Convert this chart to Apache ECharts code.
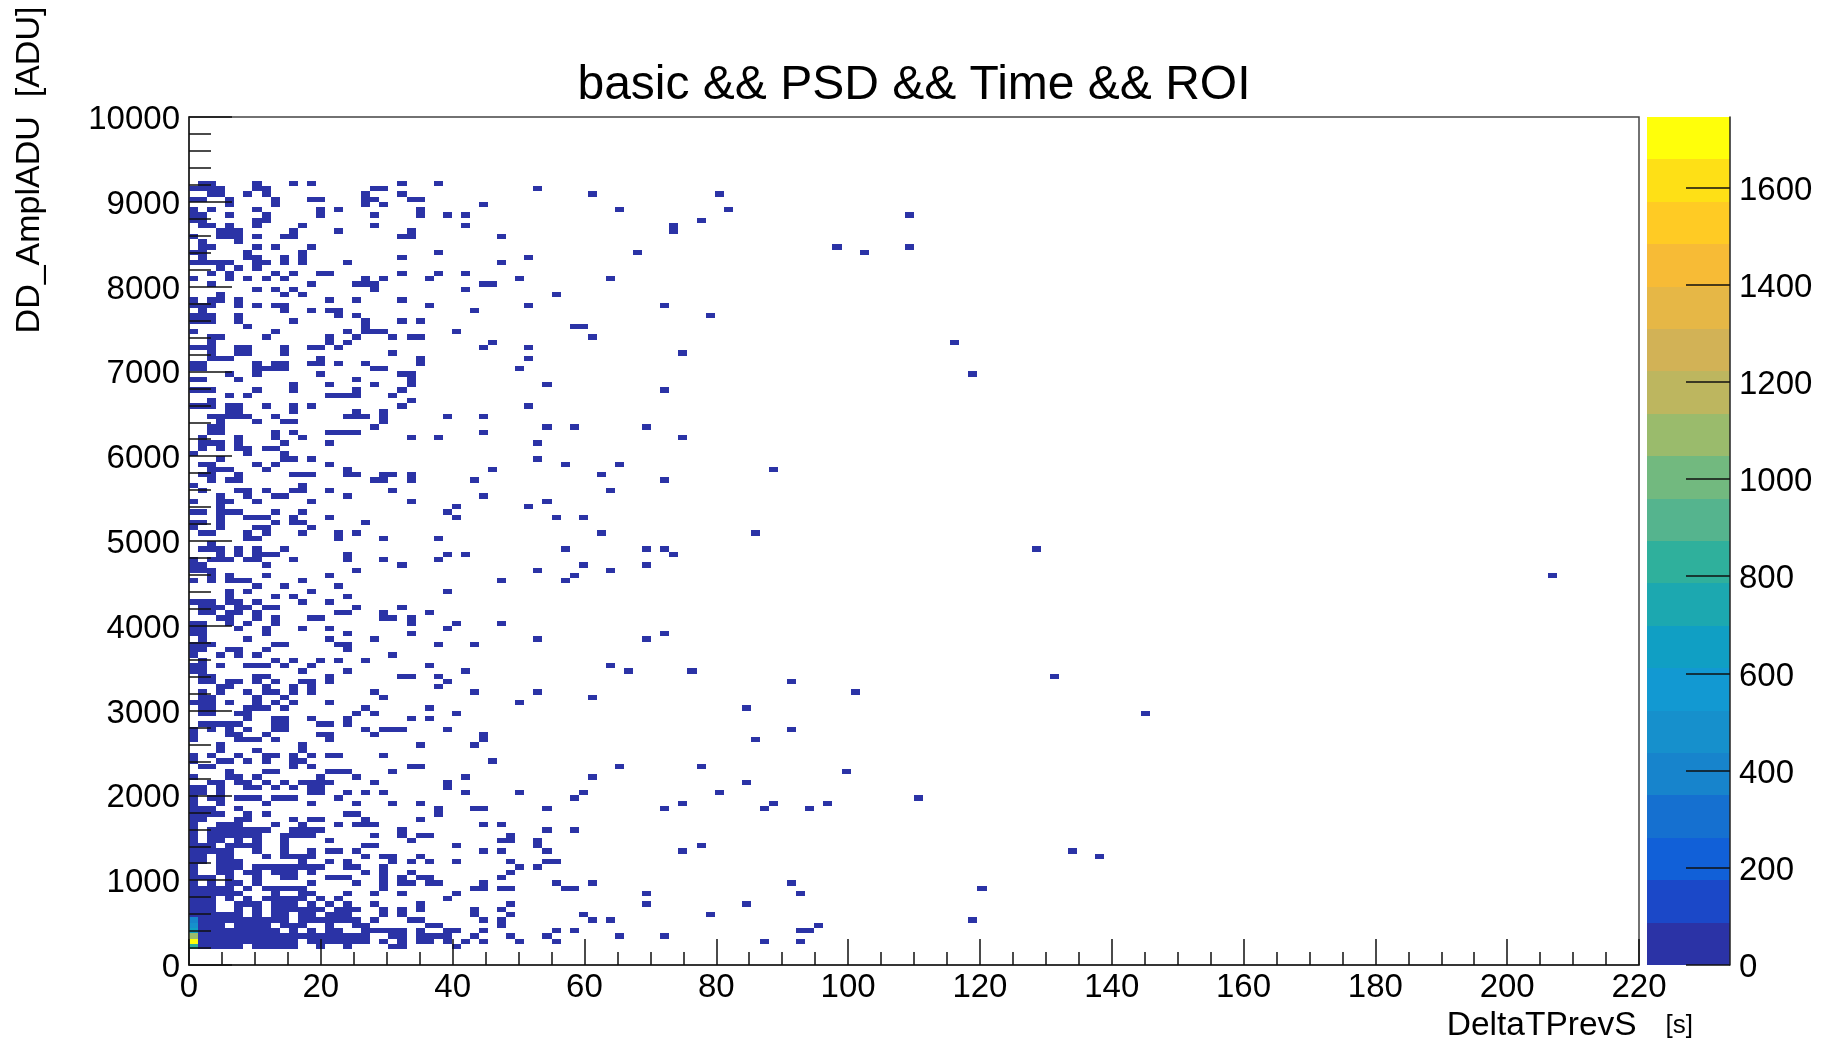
<!DOCTYPE html>
<html>
<head>
<meta charset="utf-8">
<style>html,body{margin:0;padding:0;background:#fff}#chart{width:1829px;height:1041px}</style>
<script src="https://cdn.jsdelivr.net/npm/echarts@6/dist/echarts.min.js"></script>
</head>
<body>
<div id="chart"></div>
<script>
const titleText = 'basic && PSD && Time && ROI';
const xTitle = 'DeltaTPrevS';
const xUnit = '[s]';
const yTitle = 'DD_AmplADU  [ADU]';
const xBinWidth = 1.375;
const yBinWidth = 62.5;
const countScaleMax = 1745;
const colorTicks = [0, 200, 400, 600, 800, 1000, 1200, 1400, 1600];
const palette = ['#2B33A6','#1B48C8','#1160D8','#1570D0','#1784CC','#1690CC','#1299D2','#109FC4','#1CA8B0','#2FB09C','#55B48E','#72B97F','#9ABB6C','#BDB65F','#D2B256','#E6B746','#F7BB36','#FFCB24','#FEE016','#FFFF0A'];
// bins holding more than a single band-0 count, by y-bin in x-bin 0
const peakRows = [8, 7, 6, 5, 4, 3];
const peakCounts = [400, 500, 650, 1100, 1745, 800];
const lowCount = 20;
// occupied x-bins for each y-bin (index in list = y-bin number)
const occupied = [
[],[],[],
[0,1,2,3,4,5,7,8,9,10,11,14,17,22,23,29],
[0,1,2,3,4,5,6,7,8,9,10,11,13,14,15,16,17,18,19,21,23,25,26,28,30,32,36,40,63,67],
[0,1,2,3,4,5,6,7,8,9,10,11,12,13,14,15,16,17,18,19,22,23,25,26,27,28,31,35,39,47,52],
[0,1,2,3,4,5,6,7,8,9,11,13,15,16,19,20,21,22,23,25,28,29,32,40,42,67,68],
[0,1,2,3,5,6,7,8,10,11,12,15,18,19,26,27,34,69],
[0,1,2,3,4,5,6,7,8,9,10,12,13,14,15,16,17,18,20,24,25,32,34,44,46,86],
[0,1,2,3,4,5,7,9,10,12,13,15,16,17,21,23,31,35,43,57],
[0,1,2,5,7,9,10,11,12,13,14,16,17,18,21,23,25,31,34],
[0,1,2,5,6,7,9,10,11,13,15,17,20,25,35,50,61],
[0,1,2,4,6,8,9,10,11,12,14,16,28],
[0,1,2,3,4,5,9,12,13,17,20,23,29,50,67],
[0,1,2,3,4,6,8,9,10,11,12,21,31,32,34,35,41,42,87],
[0,2,4,5,7,13,18,21,23,24,26,27,32,40,44,66],
[0,1,2,4,7,10,11,15,16,17,21,23,25,26,34],
[0,3,4,6,7,9,10,11,13,19,21,24,35],
[0,3,4,5,7,8,9,10,11,12,13,14,17,18,21,36,38],
[0,1,3,4,5,12,15,17,22,24,26,29,35,39,40],
[0,1,3,4,8,10,11,12,13,19,21,22,25,100],
[0,1,2,3,4,7,10,13,15,16,18,32,34,39,54,97],
[0,1,2,4,5,6,7,10,19,20,29,38,56],
[0,2,3,5,7,10,15,24,34,35,38],
[0,2,3,4,5,6,7,10,11,12,13,20,23,25,26,35],
[0,2,3,4,5,6,7,8,11,12,13,14,23,39,42],
[0,3,4,5,9,12,16,18,19,20,32,34],
[0,1,5,6,11,13,14,19,25],
[0,1,2,3,6,8,17,18,27],
[0,1,2,5,27,31,32,39,52,63,68],
[0,3,8,13,18,22,25,54,64,70],
[0,2,3,5,6,7,9,10,11,16,42,80],
[0,1,3,13,14,17,19,21,30,36,43,58],
[0,1,3,6,7,9,11,13,14,28],
[2,3,5,6,8,10,12,13,14,15,20,28,61],
[0,4,5,7,14,18,30,44],
[4,8,9,15,16,17,22,72],
[1,2,11,13,24,25,47,56],
[0,3,4,6,8,11,12,33],
[0,2,5,8,9,11,13,15,16,21],
[3,7,12],
[3,12,25,31],
[0,5,6,7,9,15,32,62],
[0,4,5,8,14,15,20,32],
[0,2,4,6,9,10,19,21,22,23,28,66],
[1,2,3,4,5,9,10,14,15,17],
[6,9,10,13,17,24,26],
[1,2,5,6,18,20,29,105],
[1,2,6,7,8,10,19,26,61],
[0,1,2,4,7,9,11,15,36],
[1,2,7,10,21,44],
[1,3,6,8,9,11,13,20,31,38,73],
[3,4,8,11,13,27],
[1,2,4,5,7,9,12,13,15,28,66],
[1,2,7,8,15,23,24,27,95],
[0,1,12,17,30,48,55],
[0,1,3,6,7,8,10,13,26,46],
[1,9,11,14,16,19],
[0,3,5,7,22],
[0,1,4,5,8,17],
[0,1,2,9,10,16,17,27,31],
[1,6,15,20,38,50],
[0,1,8,17,24,52],
[0,1,5,8,12,15,28],
[0,1,4,6,9,24,29,34],
[3,4,7,9,13,14,21,22,24],
[1,2,4,5,7,16,17,21,26],
[1,2,3,5,6,8,9,18,23],
[0,1,2,4,5,7,12,15],
[4,9,11,17],
[4,6,13,28],
[7,10,16],
[0,2,4,5,6,12,34,41],
[2,4,8,15,42,150],
[0,1,2,18,38,46],
[0,1,8,23,43,50],
[0,2,3,4,6,7,11,17,21,27],
[3,5,7,8,9,17,28,30,53],
[1,2,3,5,7,10,41,50,52,93],
[2],
[6,7,16,21,27],
[1,2,6,8,12,16,18,45,62],
[0,3,7,8,13],
[0,1,3,9,11,12,19],
[3,6,7,8,11,15,29,40,43],
[0,1,3,4,5,9,12,28],
[3,29,37],
[0,3,4,7,13,24,39],
[3,6,9,10,17,32],
[1,5,6,8,11,12,15,22,46],
[0,12],
[2,4,5,20,21,24,31,52],
[1,2,5,11,12,13,17,18,21,22,24,45],
[2,3,4,8,17,33,64],
[1,2,7,9,15,41,47],
[3,10,11,13,38],
[0,6,10],
[1,3,5,6,8,9],
[1,2,3,5,10,15,38],
[1,5,9,12,24,27,54],
[2,3,9,11,15,16,17,18,32],
[2,3,20,39,42,50],
[3,7,10,11,21],
[2,3,4,5,6,9,17,18,19,21,28,32],
[4,5,11,18,21],
[0,1,2,4,5,8,11,13,23,37],
[2,24],
[4,6,15,16,17,18,22],
[0,1,2,7,11,18,23,52],
[11,15,20,24,39],
[0,1,5,18,24],
[4,7,14,23,24,86],
[0,1,7,8,9,10,20,21,36],
[0,1,7,9,10,13,14,16,19,25],
[2,3,4,14,25,37],
[2,5,6,10,22,54],
[0,1,2,5,6,10,13,14,16,32,37],
[2,15,17,33,84],
[2,3,8,15,18,22,24,25,44],
[0,9,17,19,20,21,29],
[6,19,42,43],
[0,1,2,5,11,19,23,25],
[0,1,2,5,16,18,57],
[1,10,13,15,16,31],
[0,1,2,5,7,9,10,26,37,52],
[0,2,3,5,15,18,23],
[3,10,12,40],
[7,9,11,20,30],
[2,13,18,19,20,32,33],
[0,4,6,8,10,19,21,26,36,46],
[2,4,9,11,14,15,23,27,30],
[3,5,7],
[0,1,2,3,4,7,8,10,12,17,34],
[1,6,7,10,12,23,37],
[0,1,6,12,27,49,74],
[1,2,7,9,13,71,79],
[1,5],
[0,3,4,5,7,10,11,23,24,34],
[3,4,5,11,16,24,53],
[1,2,4,7,12,20,30,53],
[0,1,7,8,56],
[0,1,4,8,14,20,25,28,30,79],
[0,2,7,14,16,25,47,59],
[4,9,19,21,32],
[0,1,4,9,13,14,19,20,24,25],
[2,3,6,8,19,23,44,58],
[0,1,2,3,7,8,20,21,38],
[1,2,7,11,13,23,27]
];

const cells = [];
occupied.forEach(function (cols, row) {
  cols.forEach(function (col) {
    const p = col === 0 ? peakRows.indexOf(row) : -1;
    cells.push([col * xBinWidth, row * yBinWidth, p >= 0 ? peakCounts[p] : lowCount]);
  });
});
const bandSize = countScaleMax / palette.length;
function colorOf(v) {
  return palette[Math.min(palette.length - 1, Math.floor(v / bandSize))];
}
const bands = palette.map(function (c, i) { return [i * bandSize, (i + 1) * bandSize]; });
const plainNumber = function (v) { return String(v); };

const fontName = 'Liberation Sans';
const chart = echarts.init(document.getElementById('chart'), null, { renderer: 'canvas' });
chart.setOption({
  backgroundColor: '#ffffff',
  animation: false,
  title: {
    text: titleText, left: 909, top: 57, textAlign: 'center',
    textStyle: { fontFamily: fontName, fontSize: 48, fontWeight: 'normal', color: '#000' }
  },
  grid: [
    { left: 189, top: 117, width: 1450, height: 848, show: true, borderColor: '#444', borderWidth: 1.5, backgroundColor: '#fff', outerBoundsMode: 'none' },
    { left: 1647, top: 117, width: 83, height: 848, show: false, outerBoundsMode: 'none' }
  ],
  xAxis: [
    {
      gridIndex: 0, type: 'value', min: 0, max: 220, interval: 20, z: 5,
      name: '{a|' + xTitle + '}{b|    ' + xUnit + '}', nameLocation: 'end', nameGap: 54,
      nameTextStyle: {
        align: 'right', verticalAlign: 'top', padding: [44, 0, 0, 0],
        rich: {
          a: { fontFamily: fontName, fontSize: 33.5, color: '#000' },
          b: { fontFamily: fontName, fontSize: 26, color: '#000' }
        }
      },
      splitLine: { show: false },
      axisLine: { show: true, onZero: false, lineStyle: { color: '#222', width: 1.5 } },
      axisTick: { show: true, inside: true, length: 26, lineStyle: { color: '#111', width: 1.5 } },
      minorTick: { show: true, splitNumber: 4, length: 13, lineStyle: { color: '#111', width: 1.5 } },
      axisLabel: { fontFamily: fontName, fontSize: 33, color: '#000', margin: 6, formatter: plainNumber }
    },
    { gridIndex: 1, type: 'value', min: 0, max: 1, show: false }
  ],
  yAxis: [
    {
      gridIndex: 0, type: 'value', min: 0, max: 10000, interval: 1000, z: 5,
      splitLine: { show: false },
      axisLine: { show: true, onZero: false, lineStyle: { color: '#222', width: 1.5 } },
      axisTick: { show: true, inside: true, length: 43, lineStyle: { color: '#111', width: 1.5 } },
      minorTick: { show: true, splitNumber: 5, length: 22, lineStyle: { color: '#111', width: 1.5 } },
      axisLabel: { fontFamily: fontName, fontSize: 33, color: '#000', margin: 9, verticalAlign: 'top', lineHeight: 6, formatter: plainNumber }
    },
    {
      gridIndex: 1, type: 'value', position: 'right', min: 0, max: countScaleMax, z: 5,
      splitLine: { show: false },
      axisLine: { show: true, onZero: false, lineStyle: { color: '#222', width: 1.5 } },
      axisTick: { show: true, inside: true, length: 44, customValues: colorTicks, lineStyle: { color: '#111', width: 1.5 } },
      axisLabel: { fontFamily: fontName, fontSize: 33, color: '#000', margin: 9, verticalAlign: 'top', lineHeight: 6, customValues: colorTicks, formatter: plainNumber }
    }
  ],
  series: [
    {
      type: 'custom', xAxisIndex: 0, yAxisIndex: 0, data: cells, clip: true,
      encode: { x: 0, y: 1 },
      renderItem: function (params, api) {
        const a = api.coord([api.value(0), api.value(1)]);
        const b = api.coord([api.value(0) + xBinWidth, api.value(1) + yBinWidth]);
        const x0 = Math.round(a[0]), x1 = Math.round(b[0]);
        const y0 = Math.round(b[1]), y1 = Math.round(a[1]);
        return {
          type: 'rect',
          shape: { x: x0, y: y0, width: x1 - x0, height: y1 - y0 },
          style: { fill: colorOf(api.value(2)) }
        };
      }
    },
    {
      type: 'custom', xAxisIndex: 1, yAxisIndex: 1, data: bands, silent: true,
      encode: { y: [0, 1] },
      renderItem: function (params, api) {
        const a = api.coord([0, api.value(0)]);
        const b = api.coord([1, api.value(1)]);
        const y0 = Math.round(b[1]), y1 = Math.round(a[1]);
        return {
          type: 'rect',
          shape: { x: a[0], y: y0, width: b[0] - a[0], height: y1 - y0 },
          style: { fill: palette[params.dataIndex] }
        };
      }
    }
  ],
  graphic: [
    {
      type: 'text', x: 30, y: 170, rotation: Math.PI / 2, originX: 0, originY: 0,
      style: {
        text: yTitle, fontFamily: fontName, fontSize: 34, fill: '#000',
        textAlign: 'center', textVerticalAlign: 'middle'
      }
    }
  ]
});
</script>
</body>
</html>
